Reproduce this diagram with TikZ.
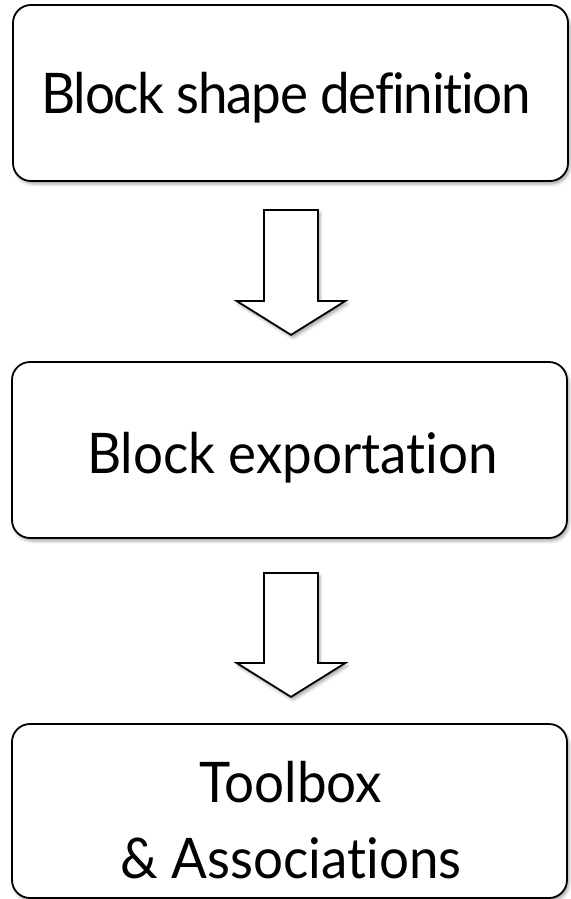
\documentclass[tikz,border=0pt]{standalone}
\usepackage{fontspec}
\setmainfont{Lato}[FakeStretch=0.945, RawFeature={-liga;-dlig;-clig}]
\newfontfamily\tightlato{Lato}[FakeStretch=0.945, RawFeature={-liga;-dlig;-clig}, LetterSpace=-2.3]
\usetikzlibrary{shadows.blur}
\begin{document}
\begin{tikzpicture}[x=1pt,y=-1pt,
  stagebox/.style={draw=black, line width=1.8pt, fill=white, rounded corners=18pt,
    minimum width=555pt, inner sep=0pt,
    blur shadow={shadow xshift=2pt, shadow yshift=-3pt, shadow blur radius=3pt, shadow opacity=35}},
  stagetext/.style={font=\fontsize{56}{76}\selectfont, anchor=base, inner sep=0pt, align=center},
  flowarrow/.style={draw=black, line width=1.8pt, fill=white, line join=miter,
    blur shadow={shadow xshift=2pt, shadow yshift=-3pt, shadow blur radius=3pt, shadow opacity=35}}]
\useasboundingbox (0,0) rectangle (570,899);

% the three stages
\node[stagebox, minimum height=176pt] (b1) at (290.5,93) {};
\node[stagebox, minimum height=176pt] (b2) at (289.5,450) {};
\node[stagebox, minimum height=174pt] (b3) at (289.5,811) {};

\node[stagetext] (t1) at (286,113) {\tightlato Block shape definition};
\node[stagetext] (t2) at (292.5,473) {Block exportation};
\node[stagetext] (t3) at (291,878) {Toolbox\\\& Associations};

% hollow block arrows between the stages
\path (b1.south) ++(0.5,28) coordinate (a1);
\path (b2.south) ++(1.5,34) coordinate (a2);
\draw[flowarrow] (a1) ++(-27,0) -- ++(54,0) -- ++(0,91) -- ++(27.5,0) -- ++(-54.5,34) -- ++(-54.5,-34) -- ++(27.5,0) -- cycle;
\draw[flowarrow] (a2) ++(-27,0) -- ++(54,0) -- ++(0,90) -- ++(27.5,0) -- ++(-54.5,34) -- ++(-54.5,-34) -- ++(27.5,0) -- cycle;
\end{tikzpicture}
\end{document}
